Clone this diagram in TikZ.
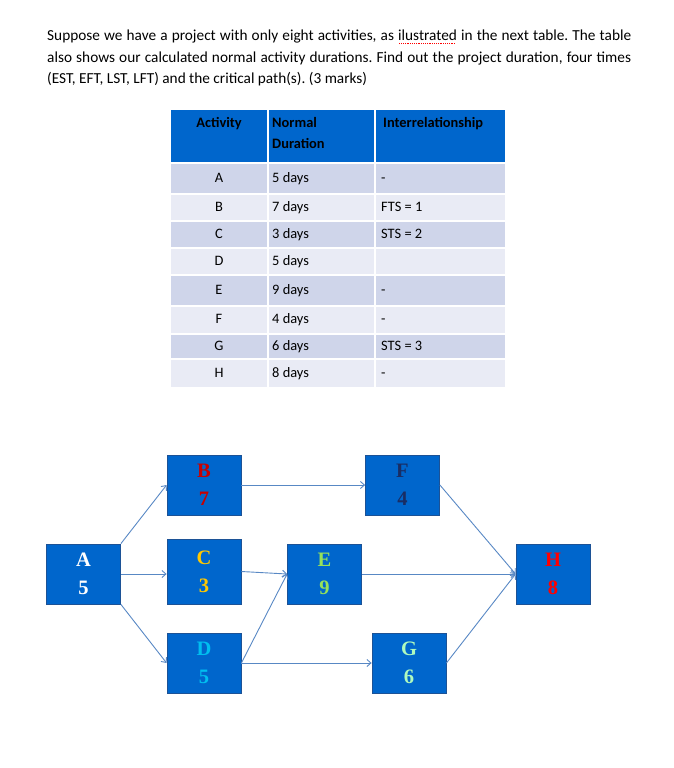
\documentclass[tikz,border=0pt]{standalone}
\usepackage{fontspec}
\setmainfont{Carlito}
\newfontfamily\labelfont{Liberation Serif}[BoldFont={Liberation Serif Bold}]
\usetikzlibrary{arrows.meta, positioning}
\usepackage{xcolor}
\frenchspacing

\definecolor{hdrblue}{RGB}{0,102,204}
\definecolor{rowdark}{RGB}{207,213,234}
\definecolor{rowlight}{RGB}{233,235,245}
\definecolor{boxblue}{RGB}{0,102,204}
\definecolor{boxedge}{RGB}{28,82,150}
\definecolor{linkblue}{RGB}{88,136,196}
\definecolor{lblB}{RGB}{200,0,0}
\definecolor{lblC}{RGB}{255,200,0}
\definecolor{lblD}{RGB}{0,190,240}
\definecolor{lblE}{RGB}{150,225,90}
\definecolor{lblF}{RGB}{25,45,100}
\definecolor{lblG}{RGB}{175,250,190}
\definecolor{lblH}{RGB}{255,0,0}

% red dotted spell-check mark under a word
\newcommand{\spellmark}[1]{\setbox0\hbox{#1}\rlap{\raisebox{-3.4pt}{\color{red}\leaders\hbox to 2.2pt{\hss\rule{1.2pt}{1.2pt}\hss}\hskip\wd0}}#1}

\begin{document}
\begin{tikzpicture}[
  x=1pt, y=-1pt,
  task/.style={anchor=north west, inner sep=0pt, text width=584pt, align=justify,
               font=\fontsize{15.3}{21.5}\selectfont},
  hdr/.style={inner sep=0pt, font=\bfseries\fontsize{14.4}{21}\selectfont},
  cell/.style={inner sep=0pt, font=\fontsize{14.4}{16}\selectfont},
  actbox/.style={draw=boxedge, line width=0.8pt, fill=boxblue, minimum width=74pt,
                 minimum height=60pt, inner sep=0pt, align=center,
                 font=\labelfont\bfseries\fontsize{20.5}{28}\selectfont},
  link/.style={draw=linkblue, line width=0.9pt, -{Straight Barb[length=4pt,width=7pt]}}
]
  \useasboundingbox (0,0) rectangle (674,768);

  % question text
  \node[task] (question) at (47,30) {Suppose we have a project with only eight activities, as
    \spellmark{ilustrated} in the next table. The table\linebreak also shows our calculated normal
    activity durations. Find out the project duration, four times\linebreak (EST, EFT, LST, LFT) and
    the critical path(s). (3 marks)};

  % table
  \fill[hdrblue] (171,110) rectangle (505,162);
  \foreach \act/\top/\bot/\dur/\rel/\shade in {
      A/164/193/5 days/-/rowdark,
      B/195/220/7 days/FTS = 1/rowlight,
      C/222/247/3 days/STS = 2/rowdark,
      D/249/274/5 days//rowlight,
      E/276/305/9 days/-/rowdark,
      F/307/333/4 days/-/rowlight,
      G/335/358/6 days/STS = 3/rowdark,
      H/360/387/8 days/-/rowlight} {
    \fill[\shade] (171,\top) rectangle (505,\bot);
    \node[cell, anchor=base] (act-\act) at (219,{(\top+\bot)/2+3.5}) {\act};
    \node[cell, anchor=base west] (dur-\act) at (272,{(\top+\bot)/2+3.5}) {\dur};
    \node[cell, anchor=base west] (rel-\act) at (381,{(\top+\bot)/2+3.5}) {\rel};
  }
  \draw[white, line width=2pt] (268,110) -- (268,387) (375,110) -- (375,387);
  \node[hdr, anchor=base] (h-act) at (219,127) {Activity};
  \node[hdr, anchor=base west] (h-norm) at (272,127) {Normal};
  \node[hdr, anchor=base west] (h-dur) at (272,148) {Duration};
  \node[hdr, anchor=base west] (h-rel) at (383,127) {Interrelationship};

  % network
  \node[actbox, text=white] (A) at (83.5,574) {A\\5};
  \node[actbox, text=lblB] (B) at (204,485) {B\\7};
  \node[actbox, text=lblC, minimum height=65pt] (C) at (204,571.5) {C\\3};
  \node[actbox, text=lblD] (D) at (204,663) {D\\5};
  \node[actbox, text=lblE] (E) at (324.5,574) {E\\9};
  \node[actbox, text=lblF] (F) at (402.5,485) {F\\4};
  \node[actbox, text=lblG] (G) at (409,663) {G\\6};
  \node[actbox, text=lblH] (H) at (553,574) {H\\8};

  \draw[link] (A.north east) -- (B.west);
  \draw[link] (A.east) -- (A.east -| C.west);
  \draw[link] (A.south east) -- (D.west);
  \draw[link] (B.east) -- (B.east -| F.west);
  \draw[link] (C.east) -- (E.west);
  \draw[link] (D.east) -- (E.west);
  \draw[link] (D.east) -- (D.east -| G.west);
  \draw[link] (F.east) -- (H.west);
  \draw[link] (E.east) -- (H.west);
  \draw[link] (G.east) -- (H.west);
\end{tikzpicture}
\end{document}
